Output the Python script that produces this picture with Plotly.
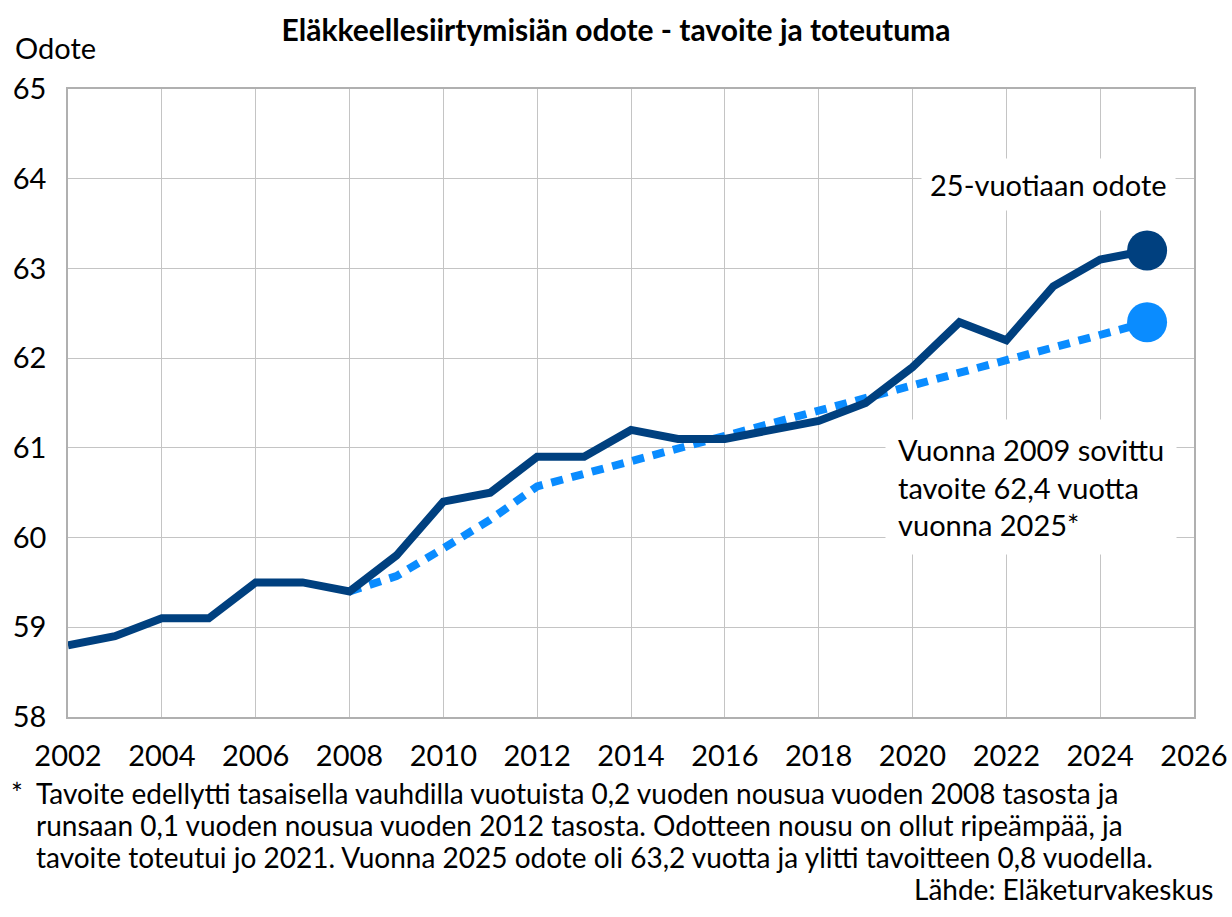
import plotly.graph_objects as go

years = list(range(2002, 2026))
actual = [58.8, 58.9, 59.1, 59.1, 59.5, 59.5, 59.4, 59.8, 60.4, 60.5, 60.9, 60.9,
          61.2, 61.1, 61.1, 61.2, 61.3, 61.5, 61.9, 62.4, 62.2, 62.8, 63.1, 63.2]
target_years = list(range(2008, 2026))
target = [59.4, 59.57, 59.88, 60.2, 60.57, 60.71, 60.85, 60.99, 61.13, 61.27, 61.41,
          61.55, 61.69, 61.83, 61.97, 62.12, 62.26, 62.4]

title_text = "Eläkkeellesiirtymisiän odote - tavoite ja toteutuma"
y_title = "Odote"
label_actual = "25-vuotiaan odote"
label_target = "Vuonna 2009 sovittu<br>tavoite 62,4 vuotta<br>vuonna 2025*"
foot_lines = [
    "Tavoite edellytti tasaisella vauhdilla vuotuista 0,2 vuoden nousua vuoden 2008 tasosta ja",
    "runsaan 0,1 vuoden nousua vuoden 2012 tasosta. Odotteen nousu on ollut ripeämpää, ja",
    "tavoite toteutui jo 2021. Vuonna 2025 odote oli 63,2 vuotta ja ylitti tavoitteen 0,8 vuodella.",
]
source = "Lähde: Eläketurvakeskus"

DARK = "#00407f"
LIGHT = "#0a8cff"
FONT = "Lato"
FS = 29
FN = 28

fig = go.Figure()
fig.add_trace(go.Scatter(x=target_years, y=target, mode="lines",
                         line=dict(color=LIGHT, width=8, dash="12px,9px"),
                         hoverinfo="skip"))
fig.add_trace(go.Scatter(x=years, y=actual, mode="lines",
                         line=dict(color=DARK, width=8), hoverinfo="skip"))
fig.add_trace(go.Scatter(x=[target_years[-1]], y=[target[-1]], mode="markers",
                         marker=dict(color=LIGHT, size=40), hoverinfo="skip"))
fig.add_trace(go.Scatter(x=[years[-1]], y=[actual[-1]], mode="markers",
                         marker=dict(color=DARK, size=40), hoverinfo="skip"))

fig.update_layout(
    width=1232, height=917,
    margin=dict(l=68, r=38, t=89, b=200),
    paper_bgcolor="white", plot_bgcolor="white",
    showlegend=False,
    font=dict(family=FONT, size=FS, color="black"),
    title=dict(text="<b>" + title_text + "</b>", x=0.5, xanchor="center",
               y=1 - 30 / 917, yanchor="middle",
               font=dict(family=FONT, size=30, color="black")),
)
fig.update_xaxes(range=[2002, 2026], dtick=2, tick0=2002, showgrid=True,
                 gridcolor="#c4c4c4", gridwidth=1.2, showline=True, linecolor="#b0b0b0",
                 linewidth=1.5, mirror=True, zeroline=False, ticks="", automargin=False,
                 ticklabelstandoff=12, tickfont=dict(size=FS))
fig.update_yaxes(range=[58, 65], dtick=1, showgrid=True, gridcolor="#c4c4c4",
                 gridwidth=1.2, showline=True, linecolor="#b0b0b0", linewidth=1.5,
                 mirror=True, zeroline=False, ticks="", ticklabelstandoff=14,
                 automargin=False, tickfont=dict(size=FS))

ann = []
ann.append(dict(text=y_title, xref="paper", yref="paper",
                x=(13 - 68) / 1126, y=(717 - 48) / 628, xanchor="left", yanchor="middle",
                showarrow=False, font=dict(size=FS)))
ann.append(dict(text=label_actual, xref="x", yref="y", x=2022.9, y=63.93,
                xanchor="center", yanchor="middle", showarrow=False,
                bgcolor="white", borderpad=8, font=dict(size=FS)))
ann.append(dict(text=label_target, xref="x", yref="y", x=2019.41, y=60.56,
                xanchor="left", yanchor="middle", align="left", showarrow=False,
                bgcolor="white", borderpad=12, font=dict(size=FS)))
ann.append(dict(text="*", xref="paper", yref="paper", x=(9 - 68) / 1126,
                y=(717 - 793) / 628, xanchor="left", yanchor="middle",
                showarrow=False, font=dict(size=FN)))
for i, line in enumerate(foot_lines):
    ann.append(dict(text=line, xref="paper", yref="paper", x=(34 - 68) / 1126,
                    y=(717 - (793 + 32 * i)) / 628, xanchor="left", yanchor="middle",
                    showarrow=False, font=dict(size=FN)))
ann.append(dict(text=source, xref="paper", yref="paper", x=(1215 - 68) / 1126,
                y=(717 - 889) / 628, xanchor="right", yanchor="middle",
                showarrow=False, font=dict(size=FN)))
fig.update_layout(annotations=ann)

fig.write_html("out.html", config={"displayModeBar": False},
               post_script="document.body.style.margin='0';document.body.style.padding='0';")
